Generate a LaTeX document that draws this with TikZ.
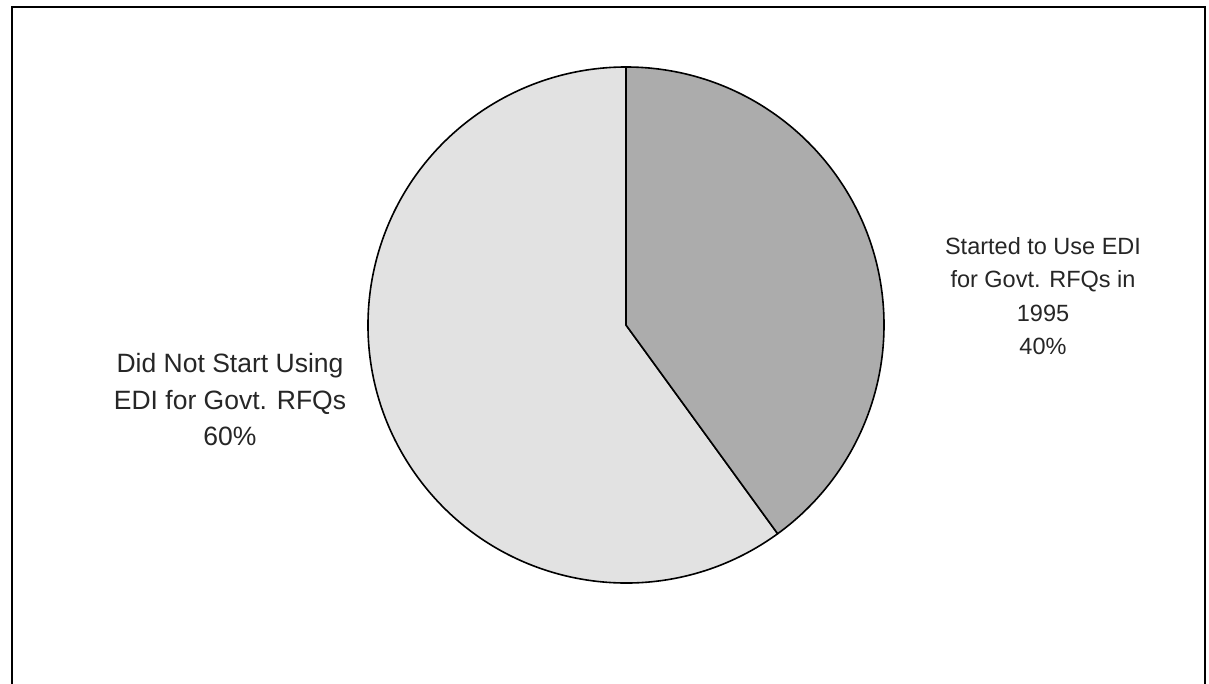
\documentclass[tikz,border=0pt]{standalone}
\usepackage{fontspec}
\setmainfont{Liberation Sans}
\definecolor{sliceA}{HTML}{ACACAC}
\definecolor{sliceB}{HTML}{E2E2E2}
\begin{document}
\begin{tikzpicture}[x=1pt,y=1pt,
  slice/.style={draw=black, line width=1.6pt, line join=round},
  lab/.style={align=center, inner sep=0pt, text=black!85}]
\useasboundingbox (0,-684) rectangle (1209,0);
\fill[white] (0,-684) rectangle (1209,0);
% frame
\draw[line width=2.4pt] (12,-684) -- (12,-7) -- (1205,-7) -- (1205,-684);
% pie
\coordinate (c) at (626,-325);
\filldraw[slice, fill=sliceB] (c) -- ++(-54:258) arc[start angle=-54, end angle=-270, radius=258] -- cycle;
\filldraw[slice, fill=sliceA] (c) -- ++(90:258) arc[start angle=90, end angle=-54, radius=258] -- cycle;
% labels
\node[lab, font=\fontsize{23.5}{33.5}\selectfont] (right) at (1043,-296) {Started to Use EDI\\for Govt. RFQs in\\1995\\40\%};
\node[lab, font=\fontsize{26.5}{36.5}\selectfont] (left) at (230,-400) {Did Not Start Using\\EDI for Govt. RFQs\\60\%};
\end{tikzpicture}
\end{document}
